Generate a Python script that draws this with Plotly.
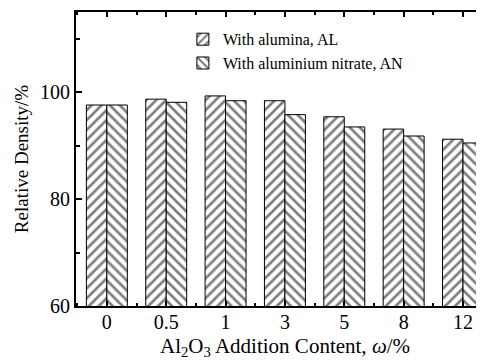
import plotly.graph_objects as go

categories = ["0", "0.5", "1", "3", "5", "8", "12"]
al_values = [97.6, 98.7, 99.3, 98.4, 95.4, 93.1, 91.2]
an_values = [97.6, 98.1, 98.4, 95.8, 93.5, 91.8, 90.5]
series_names = ["With alumina, AL", "With aluminium nitrate, AN"]
x_title = "Al<sub>2</sub>O<sub>3</sub> Addition Content, <i>ω</i>/%"
y_title = "Relative Density/%"

xpos = list(range(len(categories)))
FONT = "Liberation Serif, Times New Roman, serif"

fig = go.Figure()
fig.add_trace(go.Bar(
    x=xpos, y=al_values, name=series_names[0],
    marker=dict(color="white", line=dict(color="black", width=1),
                pattern=dict(shape="/", fgcolor="black", bgcolor="white", size=7, solidity=0.38)),
))
fig.add_trace(go.Bar(
    x=xpos, y=an_values, name=series_names[1],
    marker=dict(color="white", line=dict(color="black", width=1),
                pattern=dict(shape="\\", fgcolor="black", bgcolor="white", size=7, solidity=0.38)),
))

fig.add_annotation(text=x_title, xref="paper", yref="paper", x=0.512, y=0,
                   xanchor="center", yanchor="middle", yshift=-41, showarrow=False,
                   font=dict(family=FONT, size=21, color="black"))

fig.update_layout(
    width=476, height=355,
    margin=dict(l=68, r=0, t=4, b=57),
    paper_bgcolor="white", plot_bgcolor="white",
    barmode="group", bargap=0.31, bargroupgap=0,
    font=dict(family=FONT, color="black", size=19),
    showlegend=True,
    legend=dict(x=0.262, y=0.965, xanchor="left", yanchor="top",
                font=dict(family=FONT, size=16, color="black"),
                bgcolor="rgba(0,0,0,0)", tracegroupgap=0),
    xaxis=dict(
        range=[-0.52, 6.354], tickmode="array", tickvals=xpos, ticktext=categories,
        showline=True, linecolor="black", linewidth=2, mirror="allticks",
        ticks="inside", ticklen=5, tickcolor="black", tickwidth=1.5,
        minor=dict(dtick=0.5, tick0=0.5, ticks="inside", ticklen=3, tickcolor="black"),
        showgrid=False, zeroline=False, ticklabelstandoff=-3,
        tickfont=dict(family=FONT, size=20, color="black"),
    ),
    yaxis=dict(
        range=[60, 115], tickvals=[60, 80, 100],
        showline=True, linecolor="black", linewidth=2, mirror=False,
        ticks="inside", ticklen=6, tickcolor="black", tickwidth=1.5,
        minor=dict(tickvals=[70, 90, 110], ticks="inside", ticklen=4, tickcolor="black"),
        showgrid=False, zeroline=False,
        tickfont=dict(family=FONT, size=20, color="black"),
        title=dict(text=y_title, font=dict(family=FONT, size=19, color="black"), standoff=6),
    ),
)

fig.write_html("out.html")
